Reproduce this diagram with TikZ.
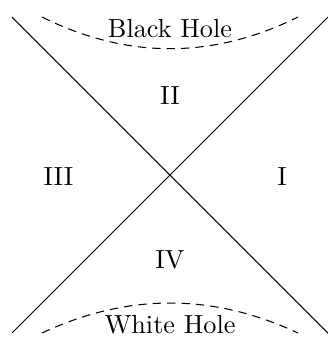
\documentclass[tikz,border=0pt]{standalone}
\usepackage{tikz}
\usetikzlibrary{positioning}

\begin{document}
\begin{tikzpicture}[x=2.12cm, y=2.12cm, sing/.style={dash pattern=on 3.2pt off 2.3pt}]
\useasboundingbox (-1.076,-1.038) rectangle (1.0,1.108);

% corners of the diagram
\coordinate (tl) at (-1.0,1.0);
\coordinate (tr) at (1.0,1.0);
\coordinate (bl) at (-1.0,-1.0);
\coordinate (br) at (1.0,-1.0);

% horizons
\draw (tl) -- (br);
\draw (bl) -- (tr);

% singularities
\coordinate (bhl) at (-0.81,1.0);
\coordinate (bhr) at (0.81,1.0);
\coordinate (whl) at (-0.81,-1.0);
\coordinate (whr) at (0.81,-1.0);
\draw[sing] (bhl) .. controls (-0.27,0.733) and (0.27,0.733) .. (bhr);
\draw[sing] (whl) .. controls (-0.27,-0.747) and (0.27,-0.747) .. (whr);

\node[anchor=base] (bh) at (0,0.873) {Black Hole};
\node[anchor=base] (wh) at (0,-1.0) {White Hole};

% regions
\node (rI) at (0.709,-0.01) {I};
\node (rII) at (0,0.503) {II};
\node (rIII) at (-0.706,-0.01) {III};
\node (rIV) at (0,-0.54) {IV};
\end{tikzpicture}
\end{document}
